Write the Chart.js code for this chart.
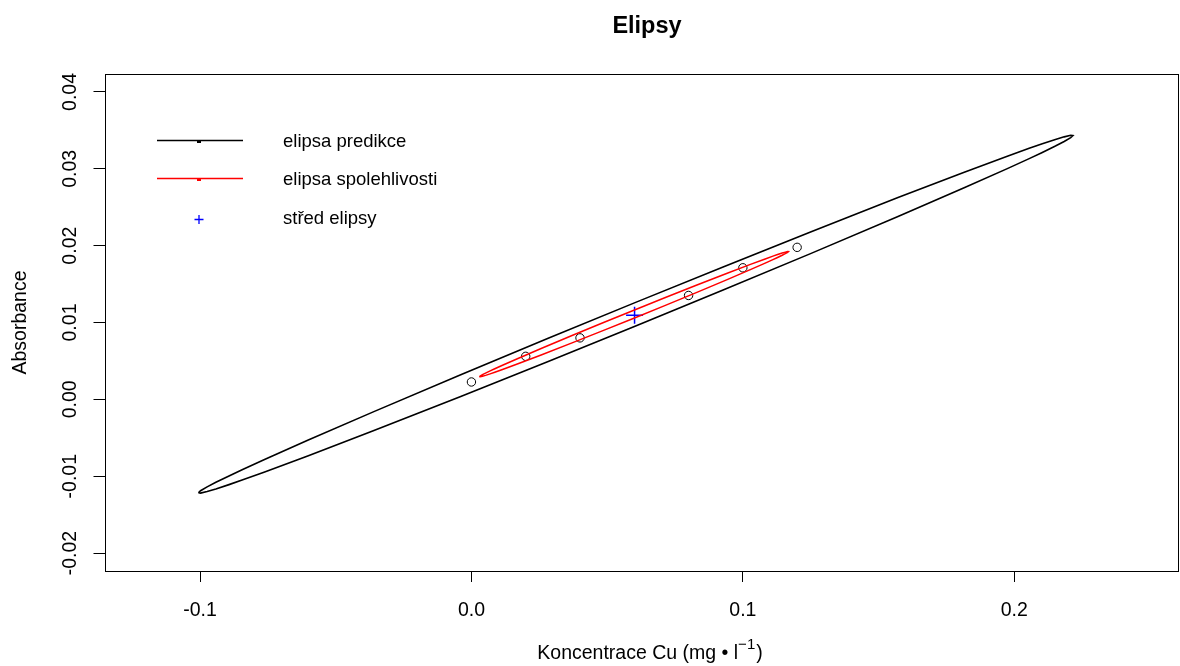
<!DOCTYPE html>
<html><head><meta charset="utf-8">
<script src="https://cdn.jsdelivr.net/npm/chart.js@4"></script>
<style>html,body{margin:0;padding:0;background:#fff}canvas{display:block}</style>
</head><body>
<canvas id="c" width="1180" height="666"></canvas>
<script>
// ---- text ----
const chartTitle = 'Elipsy';
const xAxisTitleMain = 'Koncentrace Cu (mg \u2022 l';
const xAxisTitleSup = '\u22121';
const xAxisTitleEnd = ')';
const yAxisTitle = 'Absorbance';
const legendLabels = ['elipsa predikce', 'elipsa spolehlivosti', 'st\u0159ed elipsy'];

// ---- ticks ----
const xTicks = [-0.1, 0.0, 0.1, 0.2];
const xTickLabels = ['-0.1', '0.0', '0.1', '0.2'];
const yTicks = [-0.02, -0.01, 0.00, 0.01, 0.02, 0.03, 0.04];
const yTickLabels = ['-0.02', '-0.01', '0.00', '0.01', '0.02', '0.03', '0.04'];

// ---- measured points ----
const obsX = [0.00, 0.02, 0.04, 0.08, 0.10, 0.12];
const obsY = [0.00226, 0.0056, 0.0080, 0.01352, 0.01712, 0.01978];

// ---- ellipse centre ----
const centerX = [0.0601];
const centerY = [0.01095];

// ---- prediction ellipse outline (upper / lower edge read at the same x) ----
const predX     = [-0.1006, -0.099795, -0.097378, -0.094156, -0.089323, -0.08449, -0.076435, -0.060325, -0.03616, -0.00394, 0.02828, 0.0605, 0.09272, 0.12494, 0.15716, 0.181325, 0.197435, 0.20549, 0.210323, 0.215156, 0.218378, 0.220795, 0.2216];
const predUpper = [-0.01216, -0.01189, -0.011389, -0.010799, -0.009967, -0.009165, -0.007863, -0.005331, -0.001632, 0.003195, 0.007941, 0.01262, 0.017237, 0.021787, 0.026256, 0.029529, 0.031645, 0.032667, 0.033259, 0.033821, 0.034161, 0.034358, 0.03432];
const predLower = [-0.01216, -0.012198, -0.012001, -0.011661, -0.011099, -0.010507, -0.009485, -0.007369, -0.004096, 0.000373, 0.004923, 0.00954, 0.014219, 0.018965, 0.023792, 0.027491, 0.030023, 0.031325, 0.032127, 0.032959, 0.033549, 0.03405, 0.03432];

// ---- confidence ellipse outline ----
const confX     = [0.00291, 0.003195, 0.004049, 0.005187, 0.006895, 0.008603, 0.011449, 0.017142, 0.025682, 0.037068, 0.048454, 0.05984, 0.071226, 0.082612, 0.093998, 0.102538, 0.108231, 0.111077, 0.112785, 0.114493, 0.115631, 0.116485, 0.11677];
const confUpper = [0.00294, 0.003033, 0.003206, 0.003411, 0.003701, 0.003981, 0.004435, 0.005319, 0.006612, 0.008301, 0.009962, 0.0116, 0.013218, 0.014813, 0.01638, 0.017529, 0.018273, 0.018633, 0.018841, 0.01904, 0.01916, 0.019231, 0.01922];
const confLower = [0.00294, 0.002929, 0.002999, 0.00312, 0.003319, 0.003527, 0.003887, 0.004631, 0.00578, 0.007347, 0.008943, 0.01056, 0.012199, 0.013859, 0.015548, 0.016841, 0.017725, 0.018179, 0.018459, 0.018748, 0.018954, 0.019127, 0.01922];

const FONT = '"Liberation Sans", Arial, Helvetica, sans-serif';

function outline(xs, up, lo) {
  const n = xs.length;
  const pts = xs.map((x, i) => ({x: x, y: up[i]}));
  for (let j = n - 1; j >= 0; j--) pts.push({x: xs[j], y: lo[j]});
  return pts;
}

const decor = {
  id: 'decor',
  afterDraw(chart) {
    const ctx = chart.ctx, a = chart.chartArea;
    ctx.save();
    // box
    ctx.strokeStyle = '#000';
    ctx.lineWidth = 1;
    ctx.strokeRect(Math.round(a.left) + 0.5, Math.round(a.top) + 0.5, Math.round(a.right - a.left) - 1, Math.round(a.bottom - a.top));
    // title
    ctx.fillStyle = '#000';
    ctx.font = 'bold 23.5px ' + FONT;
    ctx.textAlign = 'center';
    ctx.textBaseline = 'alphabetic';
    ctx.fillText(chartTitle, 647, 33);
    // x axis title with superscript
    const mainFont = '19.5px ' + FONT, supFont = '15px ' + FONT;
    ctx.font = mainFont;
    const w1 = ctx.measureText(xAxisTitleMain).width;
    const w3 = ctx.measureText(xAxisTitleEnd).width;
    ctx.font = supFont;
    const w2 = ctx.measureText(xAxisTitleSup).width;
    let tx = 650 - (w1 + w2 + w3 + 1) / 2;
    ctx.textAlign = 'left';
    ctx.font = mainFont;
    ctx.fillText(xAxisTitleMain, tx, 659);
    ctx.font = supFont;
    ctx.fillText(xAxisTitleSup, tx + w1, 649);
    ctx.font = mainFont;
    ctx.fillText(xAxisTitleEnd, tx + w1 + w2 + 1, 659);
    // legend
    const lx0 = 157, lx1 = 243, mx = 199;
    ctx.lineWidth = 1.5;
    ctx.strokeStyle = '#000';
    ctx.beginPath(); ctx.moveTo(lx0, 140.5); ctx.lineTo(lx1, 140.5); ctx.stroke();
    ctx.fillStyle = '#000'; ctx.fillRect(mx - 2, 140, 4, 3);
    ctx.strokeStyle = '#ff0000';
    ctx.beginPath(); ctx.moveTo(lx0, 178.5); ctx.lineTo(lx1, 178.5); ctx.stroke();
    ctx.fillStyle = '#ff0000'; ctx.fillRect(mx - 2, 178, 4, 3);
    ctx.strokeStyle = '#0000ff';
    ctx.lineWidth = 1.3;
    ctx.beginPath(); ctx.moveTo(mx - 4.5, 219.5); ctx.lineTo(mx + 4.5, 219.5);
    ctx.moveTo(mx, 215); ctx.lineTo(mx, 224); ctx.stroke();
    ctx.fillStyle = '#000';
    ctx.font = '18.5px ' + FONT;
    ctx.fillText(legendLabels[0], 283, 146.5);
    ctx.fillText(legendLabels[1], 283, 185);
    ctx.fillText(legendLabels[2], 283, 223.5);
    ctx.restore();
  }
};

new Chart(document.getElementById('c'), {
  type: 'scatter',
  data: {
    datasets: [
      { label: legendLabels[0], data: outline(predX, predUpper, predLower), showLine: true, tension: 0,
        borderColor: '#000', borderWidth: 1.6, pointRadius: 0, fill: false },
      { label: legendLabels[1], data: outline(confX, confUpper, confLower), showLine: true, tension: 0,
        borderColor: '#ff0000', borderWidth: 1.5, pointRadius: 0, fill: false },
      { label: 'data', data: obsX.map((x, i) => ({x: x, y: obsY[i]})), showLine: false,
        pointStyle: 'circle', pointRadius: 4.2, borderColor: '#000', borderWidth: 1, backgroundColor: 'rgba(0,0,0,0)' },
      { label: legendLabels[2], data: centerX.map((x, i) => ({x: x, y: centerY[i]})), showLine: false,
        pointStyle: 'cross', pointRadius: 8.5, borderColor: '#0000ff', borderWidth: 1.5 }
    ]
  },
  options: {
    responsive: false,
    animation: false,
    devicePixelRatio: 1,
    layout: { autoPadding: false, padding: { top: 74, right: 2, left: 0, bottom: 0 } },
    plugins: { legend: { display: false }, tooltip: { enabled: false }, title: { display: false } },
    scales: {
      x: {
        type: 'linear', min: -0.13519, max: 0.26032,
        afterBuildTicks: s => { s.ticks = xTicks.map(v => ({value: v})); },
        afterFit: s => { s.height = 95; s.paddingLeft = 0; s.paddingRight = 0; s.paddingTop = 0; s.paddingBottom = 0; },
        ticks: { callback: (v, i) => xTickLabels[i], autoSkip: false, maxRotation: 0, minRotation: 0,
                 color: '#000', font: { family: FONT, size: 19.5 }, padding: 16.5 },
        grid: { drawOnChartArea: false, drawTicks: true, tickLength: 11, color: '#000', lineWidth: 1 },
        border: { display: false },
        title: { display: false }
      },
      y: {
        type: 'linear', min: -0.02234, max: 0.04234,
        afterBuildTicks: s => { s.ticks = yTicks.map(v => ({value: v})); },
        afterFit: s => { s.width = 104.5; s.paddingLeft = 0; s.paddingRight = 0; s.paddingTop = 0; s.paddingBottom = 0; },
        ticks: { callback: (v, i) => yTickLabels[i], autoSkip: false, maxRotation: 90, minRotation: 90, crossAlign: 'center',
                 color: '#000', font: { family: FONT, size: 19.5 }, padding: 0.3 },
        grid: { drawOnChartArea: false, drawTicks: true, tickLength: 11, color: '#000', lineWidth: 1 },
        border: { display: false },
        title: { display: true, text: yAxisTitle, color: '#000', font: { family: FONT, size: 19.5 }, padding: { top: 8.5, bottom: 0 } }
      }
    }
  },
  plugins: [decor]
});
</script>
</body></html>
